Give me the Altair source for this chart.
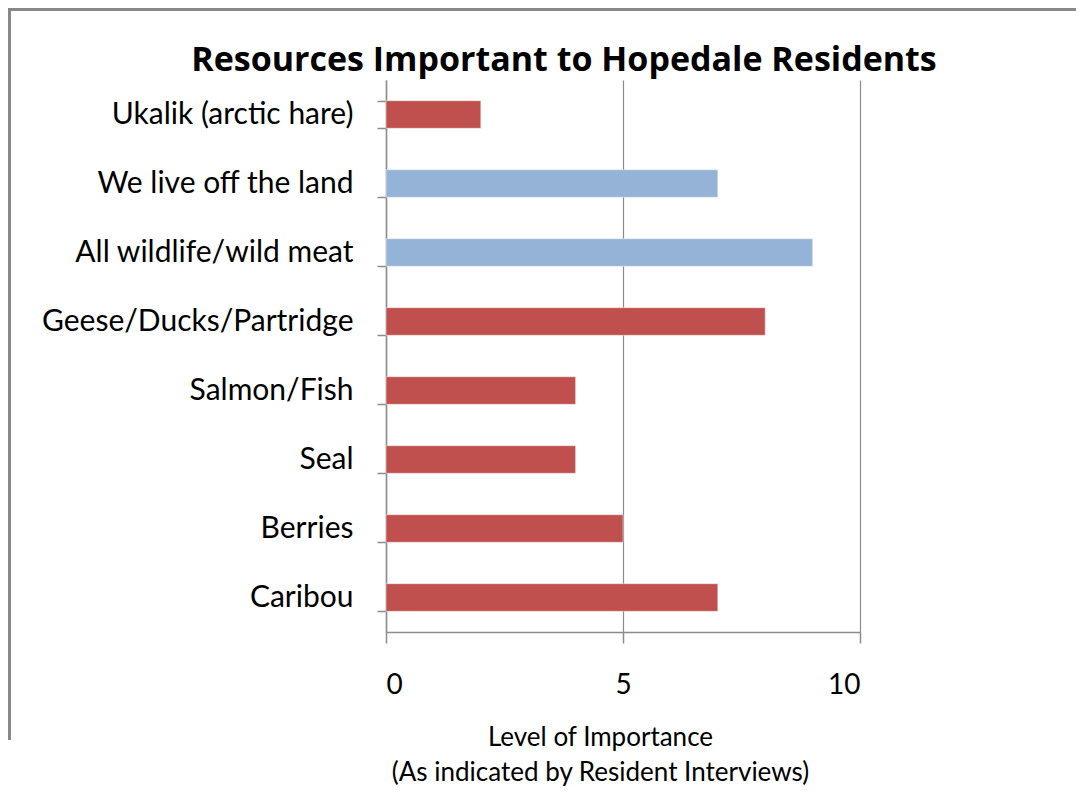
import altair as alt
import pandas as pd

categories = ["Ukalik (arctic hare)", "We live off the land", "All wildlife/wild meat",
              "Geese/Ducks/Partridge", "Salmon/Fish", "Seal", "Berries", "Caribou"]
values = [2, 7, 9, 8, 4, 4, 5, 7]
groups = ["specific", "general", "general", "specific", "specific", "specific", "specific", "specific"]
title_text = "Resources Important to Hopedale Residents"

df = pd.DataFrame({"resource": categories, "value": values, "group": groups})

FONT = "Lato"
GRAY = "#8c8c8c"

bars = alt.Chart(df).mark_bar(stroke="#f2f2f2", strokeWidth=0.5).encode(
    y=alt.Y("resource:N", sort=categories,
            scale=alt.Scale(paddingInner=0.6, paddingOuter=0.3),
            axis=alt.Axis(title=None, labelFont=FONT, labelFontSize=30, labelColor="#000000",
                          labelPadding=24, tickBand="extent", tickSize=9, tickColor=GRAY,
                          domainColor=GRAY, domainWidth=1.5, tickWidth=1.5, labelLimit=400)),
    x=alt.X("value:Q", scale=alt.Scale(domain=[0, 10], nice=False),
            axis=alt.Axis(values=[0, 5, 10], title=["Level of Importance", "(As indicated by Resident Interviews)"],
                          titleFont=FONT, titleFontSize=26, titleFontWeight="normal", titleColor="#000000",
                          titleX=214, titleY=113, titleAlign="center", titleBaseline="alphabetic",
                          titleLineHeight=35,
                          labelFont=FONT, labelFontSize=28, labelColor="#000000", labelPadding=28,
                          tickSize=11, tickColor=GRAY, tickWidth=1.5, domainColor=GRAY, domainWidth=1.5,
                          grid=True, gridColor=GRAY, gridWidth=1.2)),
    color=alt.Color("group:N", scale=alt.Scale(domain=["specific", "general"], range=["#C0504D", "#95B3D7"]),
                    legend=None),
)

title = alt.Chart(pd.DataFrame({"t": [title_text]})).mark_text(
    font="Open Sans", fontSize=34, fontWeight="bold", color="#000000", align="center", baseline="alphabetic"
).encode(text="t:N", x=alt.value(178), y=alt.value(-9))

frame = alt.Chart(df).mark_rule(color="#888888", strokeWidth=3).encode(
    x=alt.value(-377), x2=alt.value(690), y=alt.value(-70.5)
)
frame_left = alt.Chart(df).mark_rule(color="#888888", strokeWidth=3).encode(
    x=alt.value(-376.5), y=alt.value(-72), y2=alt.value(660)
)

chart = alt.layer(bars, title, frame, frame_left).properties(
    width=474, height=552,
    autosize=alt.AutoSizeParams(type="none"),
    padding={"left": 378, "top": 72, "right": 216, "bottom": 156},
).configure_view(stroke=None)

chart.save("out.html", embed_options={"renderer": "svg", "actions": False})
